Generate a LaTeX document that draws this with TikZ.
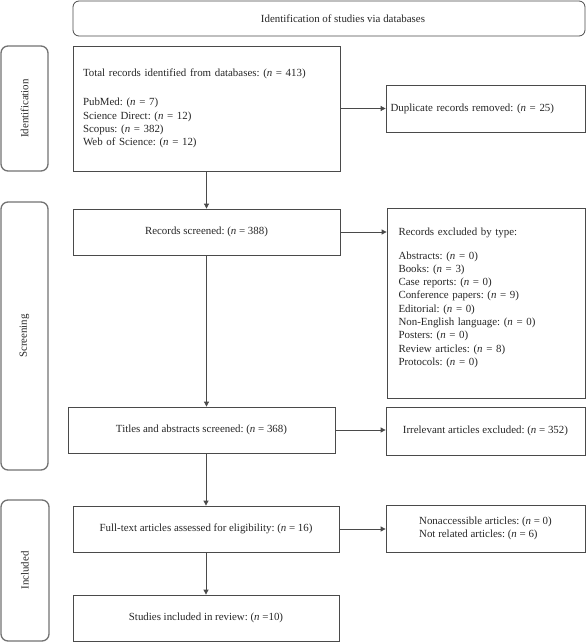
\documentclass[tikz,border=0pt]{standalone}
\usepackage{fontspec}
\setmainfont{Liberation Serif}
\usetikzlibrary{arrows.meta}
\definecolor{boxgray}{HTML}{4A4A4A}
\definecolor{stagegray}{HTML}{727272}
\newcommand{\nn}{\textit{n}}
\frenchspacing
\tikzset{
  flowbox/.style={draw=boxgray, line width=0.8pt, rectangle, inner xsep=10pt, inner ysep=0pt,
    text=black!85, font=\fontsize{10.9}{13.3}\selectfont},
  stagebox/.style={draw=stagegray, line width=1.3pt, rounded corners=7pt, rotate=90,
    text=black!85, font=\fontsize{10.9}{13.3}\selectfont},
  flowarrow/.style={draw=boxgray, line width=0.8pt, -{Triangle[length=5pt,width=5pt]}}
}
\begin{document}
\begin{tikzpicture}[x=1pt,y=-1pt]
\useasboundingbox (0,0) rectangle (586,643);
\node[flowbox, rounded corners=6pt, minimum width=512pt, minimum height=35pt] (top) at (329,18.5)
  {\hspace*{28pt}Identification of studies via databases};
% stages
\node[stagebox, minimum width=125pt, minimum height=47pt] (idside) at (24.5,108.5) {Identification};
\node[stagebox, minimum width=268pt, minimum height=47pt] (scrside) at (24.5,336) {Screening};
\node[stagebox, minimum width=141pt, minimum height=48pt] (incside) at (25,570.5) {Included};
% main column
\node[flowbox, minimum width=267pt, minimum height=125pt, text width=247pt, align=left] (total) at (206.5,108.5)
  {Total records identified from databases: (\nn{} = 413)\\[16pt]
   PubMed: (\nn{} = 7)\\ Science Direct: (\nn{} = 12)\\ Scopus: (\nn{} = 382)\\ Web of Science: (\nn{} = 12)};
\node[flowbox, minimum width=267pt, minimum height=46pt] (screened) at (206.5,232) {Records screened: (\nn{} = 388)};
\node[flowbox, minimum width=267pt, minimum height=46pt] (titles) at (201.5,430) {Titles and abstracts screened: (\nn{} = 368)};
\node[flowbox, minimum width=266pt, minimum height=46pt] (fulltext) at (206,529) {Full-text articles assessed for eligibility: (\nn{} = 16)};
\node[flowbox, minimum width=266pt, minimum height=46pt] (studies) at (206,618) {Studies included in review: (\nn{} =10)};
% exclusions
\node[flowbox, inner xsep=4.5pt, minimum width=199pt, minimum height=47pt, text width=190pt, align=left] (dup) at (485.5,108.5)
  {Duplicate records removed: (\nn{} = 25)};
\node[flowbox, inner xsep=11.5pt, minimum width=198pt, minimum height=190pt, text width=175pt, align=left] (excl) at (486,303)
  {Records excluded by type:\\[10pt]
   Abstracts: (\nn{} = 0)\\ Books: (\nn{} = 3)\\ Case reports: (\nn{} = 0)\\ Conference papers: (\nn{} = 9)\\
   Editorial: (\nn{} = 0)\\ Non-English language: (\nn{} = 0)\\ Posters: (\nn{} = 0)\\
   Review articles: (\nn{} = 8)\\ Protocols: (\nn{} = 0)\\[-1pt]\mbox{}};
\node[flowbox, minimum width=199pt, minimum height=48pt] (irrel) at (485.5,431) {Irrelevant articles excluded: (\nn{} = 352)};
\node[flowbox, minimum width=199pt, minimum height=47pt, align=left] (nonacc) at (485.5,528.5)
  {Nonaccessible articles: (\nn{} = 0)\\ Not related articles: (\nn{} = 6)};
% connectors
\draw[flowarrow] (total.south) -- (screened.north);
\draw[flowarrow] (screened.south) -- (screened.south |- titles.north);
\draw[flowarrow] (fulltext.north |- titles.south) -- (fulltext.north);
\draw[flowarrow] (fulltext.south) -- (studies.north);
\draw[flowarrow] (total.east) -- (dup.west);
\draw[flowarrow] (screened.east) -- (screened.east -| excl.west);
\draw[flowarrow] (titles.east) -- (titles.east -| irrel.west);
\draw[flowarrow] (fulltext.east) -- (fulltext.east -| nonacc.west);
\end{tikzpicture}
\end{document}
